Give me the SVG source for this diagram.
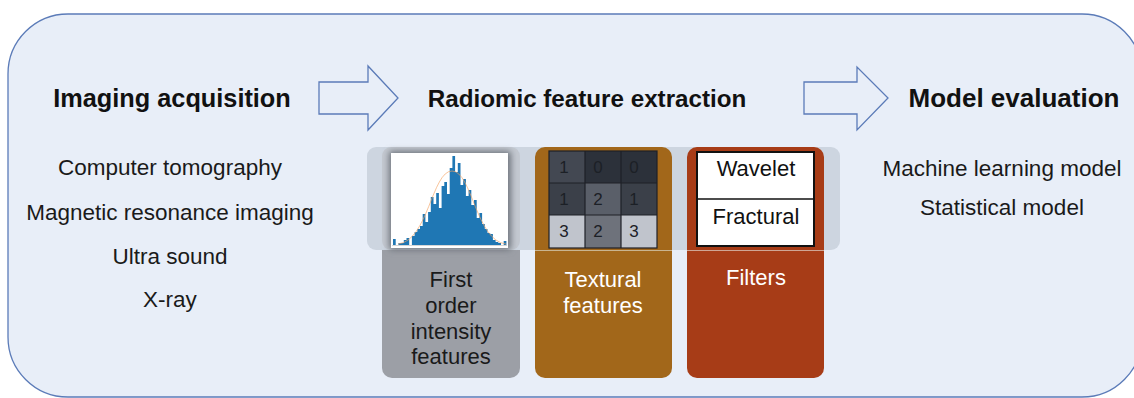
<svg xmlns="http://www.w3.org/2000/svg" width="1134" height="398" viewBox="0 0 1134 398">
  <style>
    .title { font-family: "Liberation Sans", Arial, sans-serif; font-weight: bold; font-size: 25px; fill: #111111; text-anchor: middle; }
    .body { font-family: "Liberation Sans", Arial, sans-serif; font-size: 22.5px; fill: #1a1a1a; text-anchor: middle; }
    .tile { font-family: "Liberation Sans", Arial, sans-serif; font-size: 22px; text-anchor: middle; }
    .num { font-family: "Liberation Sans", Arial, sans-serif; font-size: 17px; fill: #1c2026; text-anchor: middle; }
    .arrow { fill: #E8EEF8; stroke: #5B7BB8; stroke-width: 1.3; }
  </style>
  <defs>
    <filter id="shadow" x="-20%" y="-20%" width="140%" height="140%">
      <feGaussianBlur stdDeviation="3"/>
    </filter>
  </defs>

  <!-- main container -->
  <g id="container">
    <rect x="8" y="14" width="1134" height="383" rx="60" ry="60" fill="#E8EEF8" stroke="#5B7BB8" stroke-width="1.3"/>
  </g>

  <!-- connectors (block arrows) -->
  <g id="connectors">
    <path class="arrow" d="M319,82 H368 V66 L398,98 L368,130 V114 H319 Z"/>
    <path class="arrow" d="M804,82 H857 V67 L888,98 L857,130 V114 H804 Z"/>
  </g>

  <g id="imaging-acquisition">
    <text class="title" x="172" y="107" style="font-size:25.3px">Imaging acquisition</text>
    <text class="body" x="170" y="175">Computer tomography</text>
    <text class="body" x="170" y="220">Magnetic resonance imaging</text>
    <text class="body" x="170" y="264">Ultra sound</text>
    <text class="body" x="170" y="307">X-ray</text>
  </g>

  <g id="radiomic-feature-extraction">
    <text class="title" x="587" y="107" style="font-size:24.2px">Radiomic feature extraction</text>
    <!-- band -->
    <rect x="367" y="147" width="473" height="103" rx="9" fill="#CDD5E0"/>
  </g>

  <g id="first-order">
    <rect x="382" y="250" width="138" height="128" rx="10" fill="#9C9FA6"/>
    <rect x="382" y="250" width="138" height="12" fill="#9C9FA6"/>
    <rect x="382" y="147" width="138" height="103" rx="9" fill="#C3C8D0"/>
    <rect x="389" y="151" width="122" height="99" rx="3" fill="#6E737C" filter="url(#shadow)"/>
    <rect x="391" y="153" width="117" height="95" fill="#FFFFFF"/>
    <path fill="#1F77B4" d="M393,245 V239 H395.7 V245 H398.4 V243 H401.1 V243 H403.8 V240 H406.5 V238 H409.2 V245 H411.9 V236 H414.6 V232 H417.3 V229 H420 V226 H422.7 V214 H425.4 V222 H428.1 V212 H430.8 V197 H433.5 V204 H436.2 V193 H438.9 V208 H441.6 V186 H444.3 V182 H447 V194 H449.7 V168 H452.4 V156 H455.1 V172 H457.8 V163 H460.5 V185 H463.2 V179 H465.9 V196 H468.6 V190 H471.3 V205 H474 V200 H476.7 V218 H479.4 V213 H482.1 V224 H484.8 V229 H487.5 V233 H490.2 V234 H492.9 V240 H495.6 V242 H498.3 V243 H501 V245 H503.7 V241 H506.4 V243 H506.4 V245 Z"/>
    <path fill="none" stroke="#F4A261" stroke-width="0.8" opacity="0.8" d="M398,244 C428,241 432,171 452,171 C472,171 476,241 506,244"/>
    <line x1="392" y1="245.5" x2="507" y2="245.5" stroke="#BBBBBB" stroke-width="0.6"/>
    <text class="tile" fill="#1a1a1a" x="451" y="287">First</text>
    <text class="tile" fill="#1a1a1a" x="451" y="313">order</text>
    <text class="tile" fill="#1a1a1a" x="451" y="339">intensity</text>
    <text class="tile" fill="#1a1a1a" x="451" y="364">features</text>
  </g>

  <g id="textural">
    <rect x="535" y="147" width="137" height="231" rx="10" fill="#A2671A"/>
    <line x1="535" y1="250.5" x2="672" y2="250.5" stroke="#C9B48F" stroke-width="1"/>
    <rect x="549" y="151" width="36" height="32" fill="#434852"/>
    <rect x="585" y="151" width="36" height="32" fill="#2C313A"/>
    <rect x="621" y="151" width="36" height="32" fill="#2C313A"/>
    <rect x="549" y="183" width="36" height="32" fill="#3B4049"/>
    <rect x="585" y="183" width="36" height="32" fill="#5A5F69"/>
    <rect x="621" y="183" width="36" height="32" fill="#3B4049"/>
    <rect x="549" y="215" width="36" height="33" fill="#C0C4CC"/>
    <rect x="585" y="215" width="36" height="33" fill="#6E727B"/>
    <rect x="621" y="215" width="36" height="33" fill="#C0C4CC"/>
    <g fill="none" stroke="#1E2127" stroke-width="1.2">
      <rect x="549" y="151" width="108" height="97"/>
      <line x1="585" y1="151" x2="585" y2="248"/>
      <line x1="621" y1="151" x2="621" y2="248"/>
      <line x1="549" y1="183" x2="657" y2="183"/>
      <line x1="549" y1="215" x2="657" y2="215"/>
    </g>
    <text class="num" x="564" y="173">1</text>
    <text class="num" x="598" y="173">0</text>
    <text class="num" x="634" y="173">0</text>
    <text class="num" x="564" y="205">1</text>
    <text class="num" x="598" y="205">2</text>
    <text class="num" x="634" y="205">1</text>
    <text class="num" x="564" y="237">3</text>
    <text class="num" x="598" y="237">2</text>
    <text class="num" x="634" y="237">3</text>
    <text class="tile" fill="#FFFFFF" x="603" y="287">Textural</text>
    <text class="tile" fill="#FFFFFF" x="603" y="313">features</text>
  </g>

  <g id="filters">
    <rect x="687" y="147" width="137" height="231" rx="10" fill="#A73C17"/>
    <line x1="687" y1="250.5" x2="824" y2="250.5" stroke="#CFA594" stroke-width="1"/>
    <rect x="697" y="152" width="117" height="94" fill="#FFFFFF" stroke="#111111" stroke-width="2"/>
    <line x1="697" y1="199" x2="814" y2="199" stroke="#111111" stroke-width="1.5"/>
    <text class="tile" fill="#111111" x="756" y="176">Wavelet</text>
    <text class="tile" fill="#111111" x="756" y="224">Fractural</text>
    <text class="tile" fill="#FFFFFF" x="756" y="285">Filters</text>
  </g>

  <g id="model-evaluation">
    <text class="title" x="1014" y="107" style="font-size:26px">Model evaluation</text>
    <text class="body" x="1002" y="176">Machine learning model</text>
    <text class="body" x="1002" y="215">Statistical model</text>
  </g>
</svg>
